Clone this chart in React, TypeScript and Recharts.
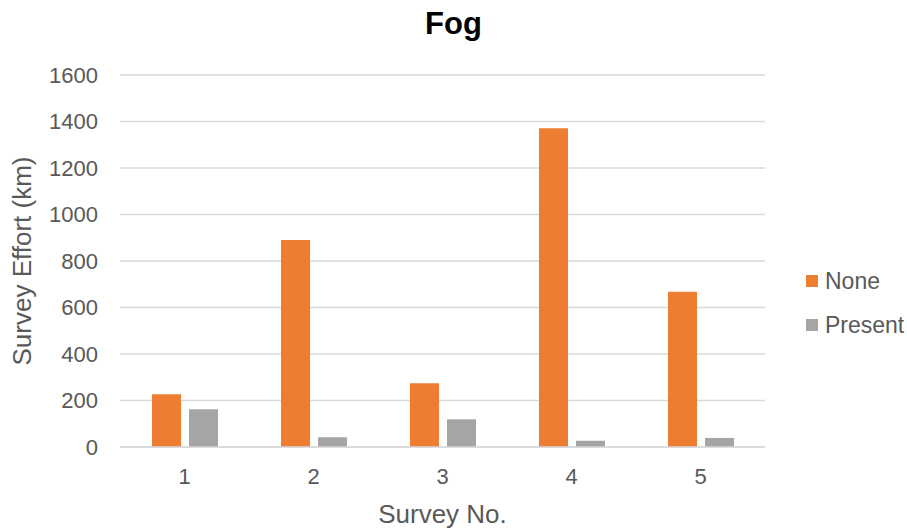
import { BarChart, Bar, XAxis, YAxis, CartesianGrid, Legend } from "recharts";

const surveys = ["1", "2", "3", "4", "5"];
const noneEffort = [227, 890, 274, 1371, 668];
const presentEffort = [162, 42, 119, 27, 39];
const yTicks = [0, 200, 400, 600, 800, 1000, 1200, 1400, 1600];

const ORANGE = "#ED7D31";
const GRAY = "#A5A5A5";
const TEXT = "#595959";
const FONT = "'Liberation Sans', Arial, sans-serif";

const data = surveys.map((s, i) => ({
  survey: s,
  None: noneEffort[i],
  Present: presentEffort[i],
}));

const renderLegend = (props: any) => {
  const { payload } = props;
  return (
    <div style={{ fontFamily: FONT }}>
      {payload.map((entry: any, index: number) => (
        <div
          key={`legend-${index}`}
          style={{
            display: "flex",
            alignItems: "center",
            height: 44,
            fontSize: 23,
            color: TEXT,
          }}
        >
          <span
            style={{
              display: "inline-block",
              width: 12,
              height: 12,
              background: entry.color,
              marginRight: 7,
            }}
          />
          {entry.value}
        </div>
      ))}
    </div>
  );
};

export default function App() {
  return (
    <div
      style={{
        position: "absolute",
        left: 0,
        top: 0,
        width: 907,
        height: 529,
        background: "#fff",
        fontFamily: FONT,
      }}
    >
      <div
        style={{
          position: "absolute",
          top: 6,
          width: 907,
          textAlign: "center",
          fontWeight: "bold",
          fontSize: 31,
          color: "#000",
        }}
      >
        Fog
      </div>
      <BarChart
        width={907}
        height={529}
        data={data}
        margin={{ top: 75, right: 32, bottom: 0, left: 0 }}
        barGap={8}
        barSize={29}
      >
        <CartesianGrid vertical={false} stroke="#D9D9D9" strokeWidth={1.5} />
        <XAxis
          dataKey="survey"
          height={82}
          axisLine={{ stroke: "#D9D9D9", strokeWidth: 1.5 }}
          tickLine={false}
          tickSize={0}
          tickMargin={21}
          tick={{ fill: TEXT, fontSize: 22, fontFamily: FONT }}
          label={{
            value: "Survey No.",
            position: "insideBottom",
            offset: 6,
            fill: TEXT,
            fontSize: 26,
            fontFamily: FONT,
          }}
        />
        <YAxis
          width={120}
          domain={[0, 1600]}
          ticks={yTicks}
          axisLine={false}
          tickLine={false}
          tickSize={0}
          tickMargin={22}
          tick={{ fill: TEXT, fontSize: 22, fontFamily: FONT }}
          label={{
            value: "Survey Effort (km)",
            angle: -90,
            position: "center",
            dx: -38,
            fill: TEXT,
            fontSize: 26,
            fontFamily: FONT,
          }}
        />
        <Legend
          layout="vertical"
          align="right"
          verticalAlign="middle"
          content={renderLegend}
          wrapperStyle={{ left: 806, right: "auto", top: 259, width: 110 }}
        />
        <Bar dataKey="None" fill={ORANGE} isAnimationActive={false} />
        <Bar dataKey="Present" fill={GRAY} isAnimationActive={false} />
      </BarChart>
    </div>
  );
}
